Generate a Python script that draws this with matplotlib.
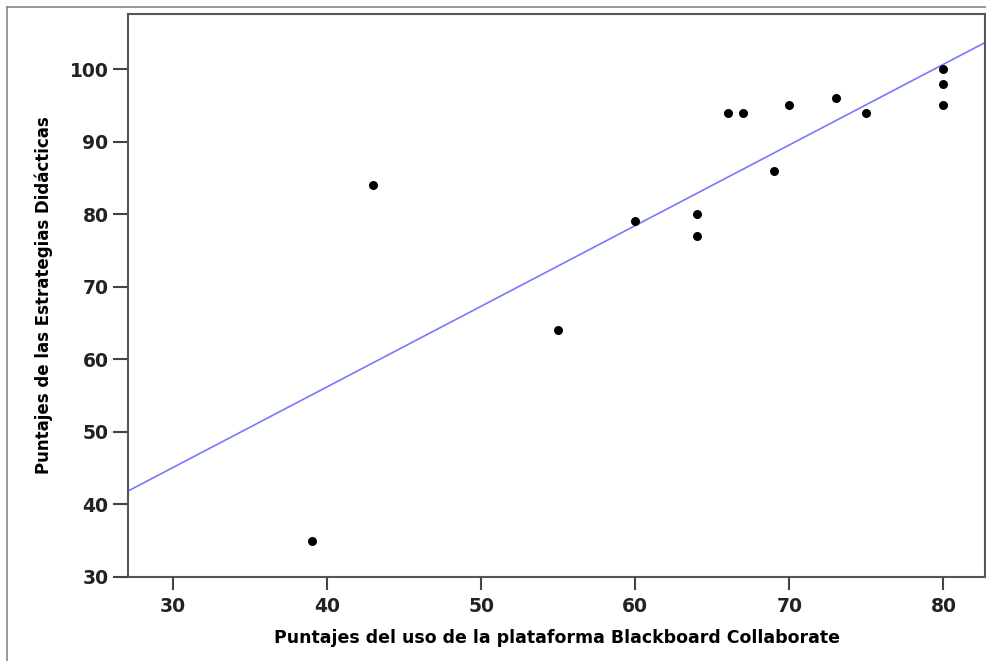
import numpy as np
import matplotlib
matplotlib.use("Agg")
import matplotlib.pyplot as plt
from matplotlib.lines import Line2D

x_vals = [39, 43, 55, 60, 64, 64, 66, 67, 69, 70, 73, 75, 80, 80, 80]
y_vals = [35, 84, 64, 79, 80, 77, 94, 94, 86, 95, 96, 94, 100, 98, 95]
x_ticks = [30, 40, 50, 60, 70, 80]
y_ticks = [30, 40, 50, 60, 70, 80, 90, 100]
x_label = "Puntajes del uso de la plataforma Blackboard Collaborate"
y_label = "Puntajes de las Estrategias Didácticas"

W, H = 986, 661
fig = plt.figure(figsize=(W / 100, H / 100), dpi=100)
ax = fig.add_axes([128 / W, 1 - 577 / H, (985 - 128) / W, (577 - 14) / H])

xmin, xmax = 27.08, 82.7
ymin, ymax = 30.0, 107.6
ax.set_xlim(xmin, xmax)
ax.set_ylim(ymin, ymax)

ax.scatter(x_vals, y_vals, s=42, c="black", marker="o", zorder=3, linewidths=0)

slope, intercept = np.polyfit(x_vals, y_vals, 1)
lx = np.array([xmin, xmax])
ax.plot(lx, slope * lx + intercept, color="#7878ff", lw=1.2, zorder=2)

ax.set_xticks(x_ticks)
ax.set_yticks(y_ticks)
for sp in ax.spines.values():
    sp.set_color("#555555")
    sp.set_linewidth(1.5)
ax.tick_params(axis="both", direction="out", color="#444444", width=1.5, labelsize=13.5)
ax.tick_params(axis="x", length=9.5, pad=5)
ax.tick_params(axis="y", length=11, pad=3)
for lab in ax.get_xticklabels() + ax.get_yticklabels():
    lab.set_fontweight("bold")
    lab.set_color("#222222")

ax.set_xlabel(x_label, fontsize=12.5, fontweight="bold", labelpad=9)
ax.set_ylabel(y_label, fontsize=13.3, fontweight="bold", fontstretch="condensed",
              family=["DejaVu Sans"], labelpad=12)

# outer frame lines
fig.add_artist(Line2D([7 / W, 7 / W], [0, 1 - 7 / H], transform=fig.transFigure, color="#888888", lw=1.2))
fig.add_artist(Line2D([7 / W, 1], [1 - 7 / H, 1 - 7 / H], transform=fig.transFigure, color="#888888", lw=1.2))

fig.savefig("out.png", dpi=100)
